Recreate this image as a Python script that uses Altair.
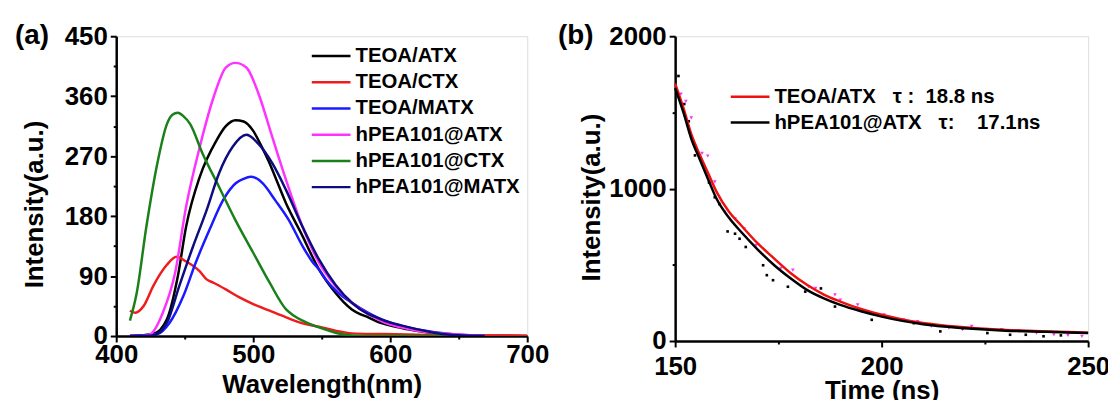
import altair as alt
import pandas as pd

FONT = "Liberation Sans"

panel_tags = ["(a)", "(b)"]

# ---------------- panel (a): PL spectra ----------------
pl_series = ["TEOA/ATX", "TEOA/CTX", "TEOA/MATX", "hPEA101@ATX", "hPEA101@CTX", "hPEA101@MATX"]
pl_colors = ["#000000", "#ee1c1c", "#1a1aff", "#ff33ff", "#1a801a", "#0d0d80"]

teoa_atx_wl = [410, 427, 437, 445, 451, 461, 473, 480, 487, 493, 500, 506, 512, 518, 524, 530, 536, 542, 548,
               554, 560, 566, 572, 578, 584, 590, 596, 604, 613, 622, 632, 644, 656, 670, 685, 700]
teoa_atx_int = [0, 3, 25, 90, 164, 239, 293, 315, 324, 322, 308, 285, 259, 229, 199, 174, 150, 124, 100,
                81, 65, 51, 40, 33, 28, 22, 18, 14, 10, 7, 4, 2, 1, 0.5, 0.3, 0.2]

teoa_ctx_wl = [410, 414, 420, 427, 437, 444, 451, 461, 466, 471, 480, 490, 500, 512, 524, 536, 548, 560, 572,
               596, 620, 644, 670, 700]
teoa_ctx_int = [38, 35, 45, 75, 107, 119, 112, 97, 85, 80, 70, 58, 48, 38, 28, 19, 14, 8, 4,
                3, 2, 1, 1, 0.5]

teoa_matx_wl = [410, 430, 439, 449, 458, 468, 478, 487, 493, 498, 503, 507, 516, 526, 536, 543, 548, 553, 562,
                572, 584, 596, 608, 620, 644, 669]
teoa_matx_int = [0, 3, 20, 60, 110, 159, 204, 229, 236, 239, 236, 229, 204, 174, 135, 112, 100, 85, 65,
                 50, 35, 23, 15, 10, 3, 0]

hpea_atx_wl = [410, 418, 425, 434, 443, 451, 461, 471, 480, 487, 495, 504, 514, 524, 536, 548, 560, 572, 584,
               596, 608, 620, 644, 669]
hpea_atx_int = [0, 0, 3, 35, 95, 194, 284, 358, 403, 410, 403, 363, 298, 234, 164, 110, 75, 50, 33,
                20, 13, 8, 3, 0]

hpea_ctx_wl = [410, 415, 422, 430, 437, 441, 445, 449, 454, 463, 475, 487, 500, 512, 524, 530, 536, 548, 560,
               572, 584, 610, 640]
hpea_ctx_int = [23, 65, 164, 259, 318, 332, 335, 330, 318, 274, 224, 174, 125, 80, 40, 30, 23, 13, 5,
                1, 0, 0, 0]

hpea_matx_wl = [410, 427, 437, 446, 456, 466, 475, 485, 495, 504, 514, 524, 536, 548, 560, 572, 584, 590, 596,
                608, 620, 632, 644, 669]
hpea_matx_int = [0, 1, 20, 75, 134, 189, 244, 284, 302, 288, 259, 219, 164, 115, 77, 50, 33, 28, 23,
                 16, 10, 5, 2, 0]

pl_wl = [teoa_atx_wl, teoa_ctx_wl, teoa_matx_wl, hpea_atx_wl, hpea_ctx_wl, hpea_matx_wl]
pl_int = [teoa_atx_int, teoa_ctx_int, teoa_matx_int, hpea_atx_int, hpea_ctx_int, hpea_matx_int]

# ---------------- panel (b): decay ----------------
decay_legend = ["TEOA/ATX\u00a0\u00a0\u00a0τ\u00a0:\u00a0\u00a018.8 ns",
                "hPEA101@ATX\u00a0\u00a0\u00a0τ:\u00a0\u00a0\u00a0\u00a017.1ns"]
decay_colors = ["#ee1111", "#000000"]

fit_t = [150, 152, 154, 156, 158, 160, 163, 166, 170, 174, 178, 182, 186, 190, 195, 200, 205, 210, 215, 220,
         225, 230, 240, 250]
fit_teoa = [1690, 1530, 1350, 1220, 1100, 980, 850, 758, 640, 541, 445, 367, 305, 259, 210, 172, 142, 118, 102,
            90, 80, 73, 63, 55]
fit_hpea = [1660, 1500, 1320, 1190, 1060, 935, 810, 715, 600, 497, 410, 334, 280, 237, 195, 160, 132, 110, 95,
            84, 75, 68, 60, 52]

pts_teoa_t = [151.4, 152.6, 153.9, 156.5, 157.9, 159.6, 162.0, 164.5, 166.7, 169.6, 175.6, 178.5, 182.3, 184.0,
              188.7, 190.0, 194.2, 200.6, 205.3, 208.7, 212.0, 216.3, 219.6, 221.8, 229.0, 233.3, 237.5, 241.7,
              245.1, 248.5]
pts_teoa_v = [1620, 1572, 1464, 1231, 1214, 1044, 845, 801, 736, 627, 476, 465, 356, 345,
              302, 269, 237, 171, 139, 128, 96, 85, 74, 96, 74, 63, 52, 41,
              37, 31]
pts_hpea_t = [150.8, 152.2, 153.3, 154.8, 158.2, 159.6, 160.7, 162.7, 164.5, 165.6, 167.1, 171.3, 172.2, 173.7,
              177.3, 181.5, 185.3, 188.7, 197.6, 207.8, 214.2, 219.6, 225.6, 231.1, 234.9, 239.2, 243.4]
pts_hpea_v = [1739, 1555, 1442, 1218, 1040, 943, 899, 719, 704, 671, 617, 497, 432, 399,
              356, 324, 345, 226, 139, 117, 63, 85, 52, 41, 41, 31, 37]

# ---------------- layout constants ----------------
WA, HA = 414, 302
WB, HB = 416, 307
XA, YA = (400, 700), (0, 450)
XB, YB = (150, 250), (0, 2000)

# ---------------- data frames ----------------
rows = []
for name, xs, ys in zip(pl_series, pl_wl, pl_int):
    for x, y in zip(xs, ys):
        rows.append({"series": name, "wl": x, "val": y})
df_a = pd.DataFrame(rows)

rows = []
for name, ys in zip(decay_legend, [fit_teoa, fit_hpea]):
    for x, y in zip(fit_t, ys):
        rows.append({"series": name, "t": x, "val": y})
df_fit = pd.DataFrame(rows)
df_pt_teoa = pd.DataFrame({"t": pts_teoa_t, "val": pts_teoa_v})
df_pt_hpea = pd.DataFrame({"t": pts_hpea_t, "val": pts_hpea_v})


def axis(values, major, title, tick_major, tick_minor, label_pad, title_pad, **kw):
    return alt.Axis(
        values=values, format="d",
        labelExpr=f"datum.value % {major} === 0 ? datum.label : ''",
        tickSize={"condition": {"test": f"datum.value % {major} === 0", "value": tick_major}, "value": tick_minor},
        title=title, grid=False, labelFlush=False,
        domainColor="black", domainWidth=2.5, tickColor="black", tickWidth=2,
        labelFont=FONT, labelFontWeight="bold", labelFontSize=26, labelColor="black",
        labelPadding=label_pad, labelOverlap=False,
        titleFont=FONT, titleFontWeight="bold", titleFontSize=26, titleColor="black",
        titlePadding=title_pad, **kw)


def legend_layers(names, scale, xdom, ydom, w, h, x0, y0, step, xs, ys, axx, axy):
    """Hand-drawn legend: line sample + label, placed in pixel offsets converted to data units."""
    kx = (xdom[1] - xdom[0]) / w
    ky = (ydom[1] - ydom[0]) / h
    df = pd.DataFrame({"series": names, "idx": list(range(len(names)))})
    base = alt.Chart(df).transform_calculate(
        ly=f"{ydom[1]} - ({y0} + datum.idx * {step}) * {ky}",
        lx1=f"{xdom[0]} + {x0} * {kx}",
        lx2=f"{xdom[0]} + ({x0} + 39) * {kx}",
        lxt=f"{xdom[0]} + ({x0} + 44) * {kx}",
    )
    rule = base.mark_rule(strokeWidth=2.5).encode(
        x=alt.X("lx1:Q", scale=xs, axis=axx), x2="lx2:Q",
        y=alt.Y("ly:Q", scale=ys, axis=axy),
        color=alt.Color("series:N", scale=scale, legend=None))
    text = base.mark_text(align="left", baseline="middle", font=FONT, fontSize=20.5, fontWeight="bold",
                          color="black").encode(
        x=alt.X("lxt:Q", scale=xs, axis=axx), y=alt.Y("ly:Q", scale=ys, axis=axy), text="series:N")
    return [rule, text]


# ---------------- panel (a) ----------------
ax_xa = axis([400, 450, 500, 550, 600, 650, 700], 100, "Wavelength(nm)", 6, 3, 0, 4)
ax_ya = axis(list(range(0, 451, 45)), 90, "Intensity(a.u.)", 6, 3, 3, 17, titleY=169)
xs_a = alt.Scale(domain=list(XA), nice=False, zero=False, padding=0)
ys_a = alt.Scale(domain=list(YA), nice=False, padding=0)
col_a = alt.Scale(domain=pl_series, range=pl_colors)

lines_a = alt.Chart(df_a).mark_line(strokeWidth=2.5, clip=True, interpolate="monotone").encode(
    x=alt.X("wl:Q", scale=xs_a, axis=ax_xa),
    y=alt.Y("val:Q", scale=ys_a, axis=ax_ya),
    color=alt.Color("series:N", scale=col_a, legend=None),
)
tag_a = alt.Chart(pd.DataFrame({"tag": [panel_tags[0]]})).mark_text(
    font=FONT, fontSize=28, fontWeight="bold", align="left", baseline="alphabetic", color="black"
).encode(text="tag:N", x=alt.value(-102), y=alt.value(8))
leg_a = legend_layers(pl_series, col_a, XA, YA, WA, HA, 197, 20, 26.4, xs_a, ys_a, ax_xa, ax_ya)
panel_a = alt.layer(lines_a, *leg_a, tag_a).properties(width=WA, height=HA)

# ---------------- panel (b) ----------------
ax_xb = axis([150, 175, 200, 225, 250], 50, "Time (ns)", 6, 3, 7, -2)
ax_yb = axis([0, 500, 1000, 1500, 2000], 1000, "Intensity(a.u.)", 6, 3, 3, 4, titleY=162)
xs_b = alt.Scale(domain=list(XB), nice=False, zero=False, padding=0)
ys_b = alt.Scale(domain=list(YB), nice=False, padding=0)
col_b = alt.Scale(domain=decay_legend, range=decay_colors)

pts_a = alt.Chart(df_pt_teoa).mark_point(shape="triangle-down", filled=True, size=14, color="#ff33ff",
                                         opacity=1).encode(
    x=alt.X("t:Q", scale=xs_b, axis=ax_xb), y=alt.Y("val:Q", scale=ys_b, axis=ax_yb))
pts_b = alt.Chart(df_pt_hpea).mark_square(size=7, color="black", opacity=1).encode(
    x=alt.X("t:Q", scale=xs_b, axis=ax_xb), y=alt.Y("val:Q", scale=ys_b, axis=ax_yb))
lines_b = alt.Chart(df_fit).mark_line(strokeWidth=2.5, interpolate="monotone").encode(
    x=alt.X("t:Q", scale=xs_b, axis=ax_xb),
    y=alt.Y("val:Q", scale=ys_b, axis=ax_yb),
    color=alt.Color("series:N", scale=col_b, legend=None),
)
tag_b = alt.Chart(pd.DataFrame({"tag": [panel_tags[1]]})).mark_text(
    font=FONT, fontSize=28, fontWeight="bold", align="left", baseline="alphabetic", color="black"
).encode(text="tag:N", x=alt.value(-118), y=alt.value(8))
leg_b = legend_layers(decay_legend, col_b, XB, YB, WB, HB, 56, 61, 26, xs_b, ys_b, ax_xb, ax_yb)
panel_b = alt.layer(pts_a, pts_b, lines_b, *leg_b, tag_b).properties(width=WB, height=HB)

chart = alt.hconcat(panel_a, panel_b, spacing=7).resolve_scale(color="independent").properties(
    padding={"left": 6, "top": 12, "right": -3, "bottom": -6}
).configure_view(stroke="black", strokeWidth=2.5).configure(background="white")

chart.save("out.html", embed_options={"renderer": "svg", "actions": False})
